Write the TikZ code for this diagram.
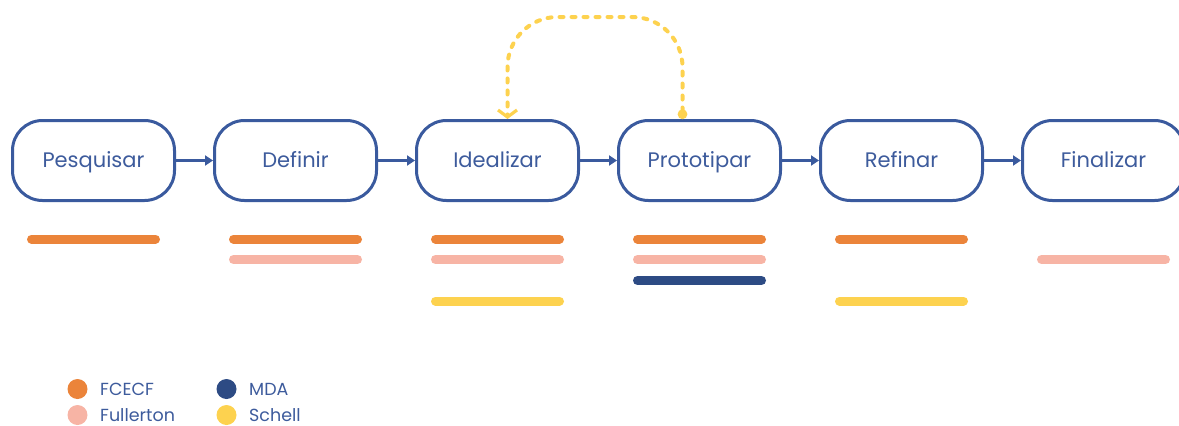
\documentclass[tikz,border=0pt]{standalone}
\usepackage{fontspec}
\setmainfont{Poppins}
\usetikzlibrary{arrows.meta,calc}
\definecolor{stroke}{HTML}{3A5A9E}
\definecolor{ink}{HTML}{3D5B9C}
\definecolor{cOrange}{HTML}{EB843A}
\definecolor{cPink}{HTML}{F7B4A5}
\definecolor{cNavy}{HTML}{2D4B84}
\definecolor{cYellow}{HTML}{FDD24F}
\tikzset{
  stage/.style={draw=stroke, line width=3pt, rounded corners=30pt,
    minimum width=162pt, minimum height=80pt, text=ink,
    font=\fontsize{21}{25}\selectfont, inner sep=0pt,
    text height=14.5pt, text depth=0pt},
  flow/.style={draw=stroke, line width=2.2pt, -{Triangle[length=8pt,width=10pt]}},
  bar/.style={line width=9pt, line cap=round},
  loopback/.style={draw=cYellow, line width=4pt, line cap=round,
    dash pattern=on 4pt off 8pt, rounded corners=50pt,
    {Circle[length=9.5pt,width=9.5pt]}-{Straight Barb[length=7pt,width=19pt,line width=3.2pt]}},
  key/.style={circle, minimum size=20pt, inner sep=0pt},
  keylabel/.style={anchor=west, text=ink, font=\fontsize{17.5}{21}\selectfont,
    inner sep=0pt, text height=12.5pt, text depth=0pt}
}
\begin{document}
\begin{tikzpicture}[x=1pt,y=-1pt]
\useasboundingbox (0,0) rectangle (1179,426);

% process stages
\node[stage] (p) at (93.5,160.5) {Pesquisar};
\node[stage] (d) at (295.5,160.5) {Definir};
\node[stage] (i) at (497.5,160.5) {Idealizar};
\node[stage] (t) at (699.5,160.5) {Prototipar};
\node[stage] (r) at (901.5,160.5) {Refinar};
\node[stage] (f) at (1103.5,160.5) {Finalizar};

% forward flow
\draw[flow] (p) -- (d);
\draw[flow] (d) -- (i);
\draw[flow] (i) -- (t);
\draw[flow] (t) -- (r);
\draw[flow] (r) -- (f);

% iteration loop from prototyping back to ideation
\draw[loopback] ([xshift=-17pt]t.north) -- ++(0,-102) -| ([xshift=10pt]i.north);

% method coverage bars (rows: FCECF, Fullerton, MDA, Schell)
\foreach \s/\c/\dy in {p/cOrange/78.5,
                       d/cOrange/78.5, d/cPink/99,
                       i/cOrange/78.5, i/cPink/99, i/cYellow/140.5,
                       t/cOrange/78.5, t/cPink/99, t/cNavy/120,
                       r/cOrange/78.5, r/cYellow/140.5,
                       f/cPink/99}
  \draw[bar, draw=\c] ($(\s.center)+(-62,\dy)$) -- ($(\s.center)+(62,\dy)$);

% legend
\node[key, fill=cOrange] (k1) at (77.5,389) {};
\node[keylabel] (l1) at (100,389) {FCECF};
\node[key, fill=cPink] (k2) at (77.5,415) {};
\node[keylabel] (l2) at (100,415) {Fullerton};
\node[key, fill=cNavy] (k3) at (226.5,389) {};
\node[keylabel] (l3) at (249,389) {MDA};
\node[key, fill=cYellow] (k4) at (226.5,415) {};
\node[keylabel] (l4) at (249,415) {Schell};
\end{tikzpicture}
\end{document}
